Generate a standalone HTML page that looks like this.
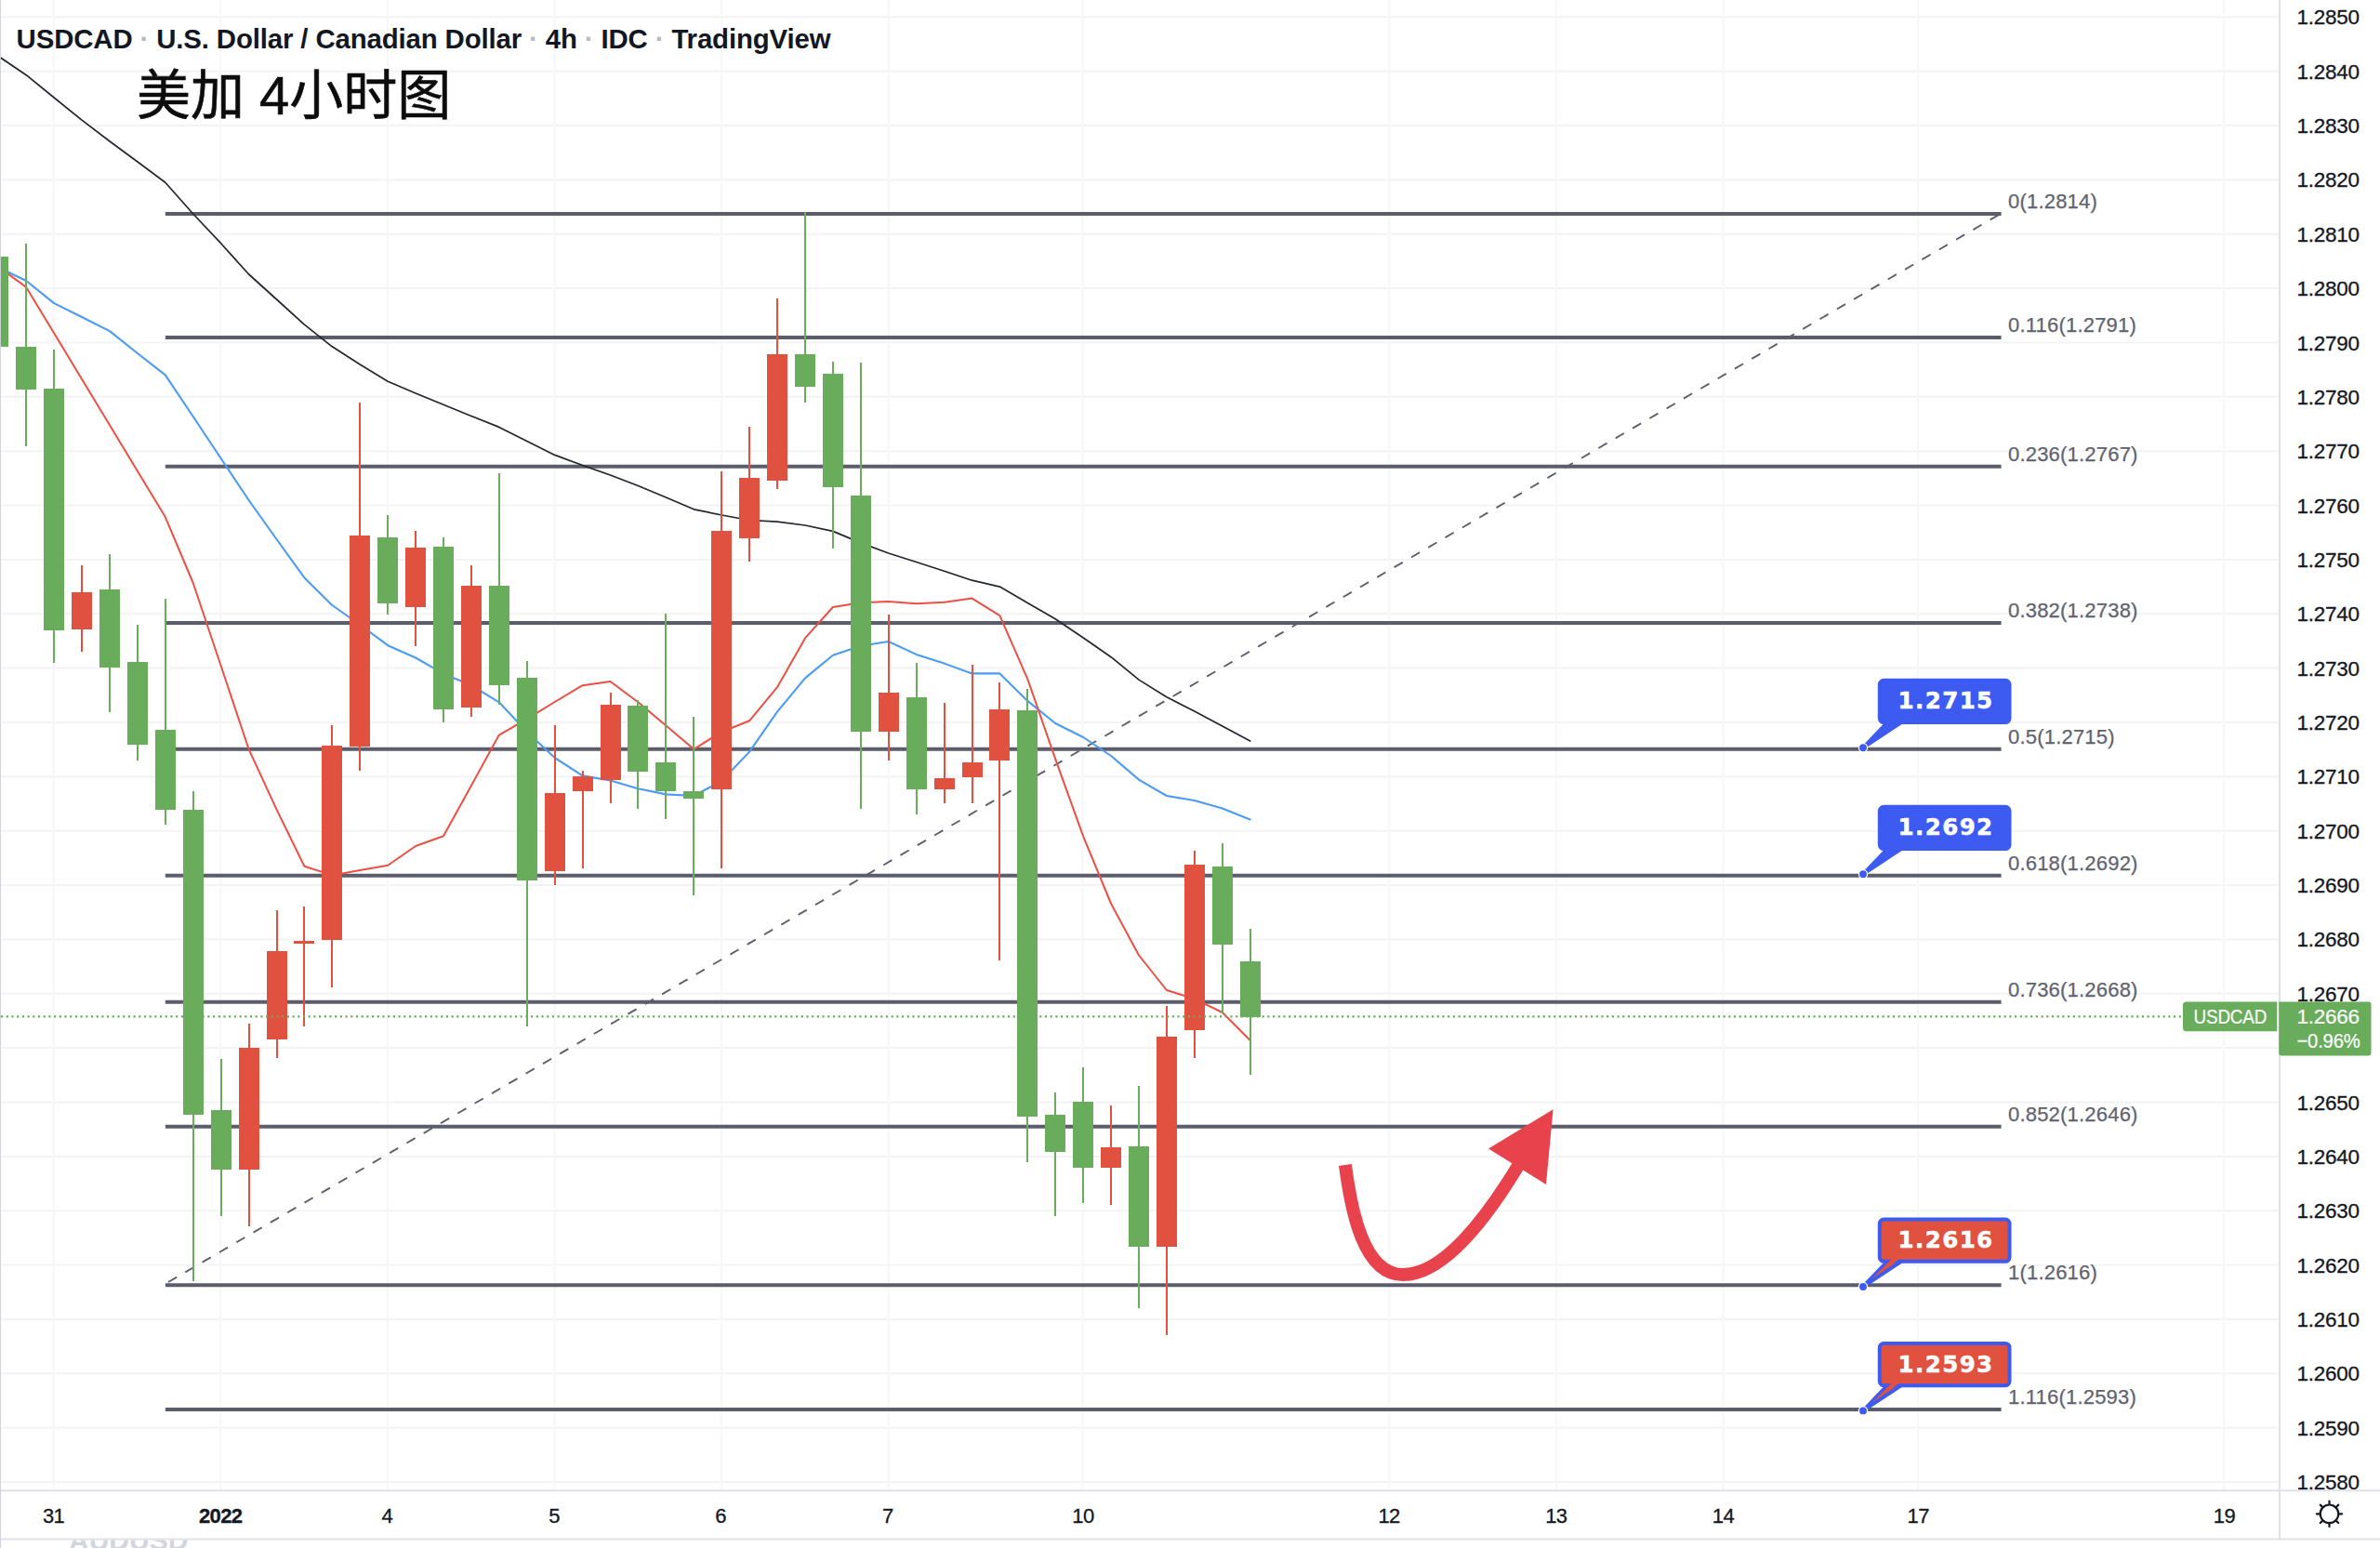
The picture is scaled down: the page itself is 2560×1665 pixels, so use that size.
<!DOCTYPE html>
<html lang="zh"><head><meta charset="utf-8"><title>USDCAD 4h</title>
<style>
html,body{margin:0;padding:0;background:#fff;}
body{width:2560px;height:1665px;overflow:hidden;position:relative;}
svg{position:absolute;left:0;top:0;display:block;}
text{font-family:"Liberation Sans","Noto Sans CJK SC",sans-serif;}
.ax{font-size:22.5px;fill:#131722;letter-spacing:-0.25px;stroke:#131722;stroke-width:0.3px;}
.fl{font-size:22px;fill:#60636f;letter-spacing:0.2px;stroke:#60636f;stroke-width:0.25px;}
.cl{font-family:"DejaVu Sans","Liberation Sans",sans-serif;font-weight:bold;font-size:24.5px;fill:#fff;letter-spacing:1.4px;stroke:#fff;stroke-width:0.5px;}
.ttl{font-size:29.4px;font-weight:bold;fill:#131722;}
.cn{font-family:"Liberation Sans","Noto Sans CJK SC",sans-serif;font-size:58px;fill:#0c0c0c;font-weight:400;stroke:#0c0c0c;stroke-width:0.6px;}
</style></head><body>
<svg width="2560" height="1665" viewBox="0 0 2560 1665">
<rect x="0" y="0" width="2560" height="1665" fill="#ffffff"/>
<g stroke="#f3f3f5" stroke-width="2">
<line x1="0" y1="18.3" x2="2452" y2="18.3"/>
<line x1="0" y1="76.7" x2="2452" y2="76.7"/>
<line x1="0" y1="135.0" x2="2452" y2="135.0"/>
<line x1="0" y1="193.4" x2="2452" y2="193.4"/>
<line x1="0" y1="251.7" x2="2452" y2="251.7"/>
<line x1="0" y1="310.1" x2="2452" y2="310.1"/>
<line x1="0" y1="368.5" x2="2452" y2="368.5"/>
<line x1="0" y1="426.8" x2="2452" y2="426.8"/>
<line x1="0" y1="485.2" x2="2452" y2="485.2"/>
<line x1="0" y1="543.5" x2="2452" y2="543.5"/>
<line x1="0" y1="601.9" x2="2452" y2="601.9"/>
<line x1="0" y1="660.3" x2="2452" y2="660.3"/>
<line x1="0" y1="718.6" x2="2452" y2="718.6"/>
<line x1="0" y1="777.0" x2="2452" y2="777.0"/>
<line x1="0" y1="835.3" x2="2452" y2="835.3"/>
<line x1="0" y1="893.7" x2="2452" y2="893.7"/>
<line x1="0" y1="952.1" x2="2452" y2="952.1"/>
<line x1="0" y1="1010.4" x2="2452" y2="1010.4"/>
<line x1="0" y1="1068.8" x2="2452" y2="1068.8"/>
<line x1="0" y1="1127.1" x2="2452" y2="1127.1"/>
<line x1="0" y1="1185.5" x2="2452" y2="1185.5"/>
<line x1="0" y1="1243.9" x2="2452" y2="1243.9"/>
<line x1="0" y1="1302.2" x2="2452" y2="1302.2"/>
<line x1="0" y1="1360.6" x2="2452" y2="1360.6"/>
<line x1="0" y1="1418.9" x2="2452" y2="1418.9"/>
<line x1="0" y1="1477.3" x2="2452" y2="1477.3"/>
<line x1="0" y1="1535.7" x2="2452" y2="1535.7"/>
<line x1="0" y1="1594.0" x2="2452" y2="1594.0"/>
</g>
<g stroke="#f7f7f9" stroke-width="2.2">
<line x1="57.6" y1="0" x2="57.6" y2="1603.2"/>
<line x1="237.2" y1="0" x2="237.2" y2="1603.2"/>
<line x1="416.9" y1="0" x2="416.9" y2="1603.2"/>
<line x1="596.6" y1="0" x2="596.6" y2="1603.2"/>
<line x1="776.2" y1="0" x2="776.2" y2="1603.2"/>
<line x1="955.9" y1="0" x2="955.9" y2="1603.2"/>
<line x1="1164.6" y1="0" x2="1164.6" y2="1603.2"/>
<line x1="1494.4" y1="0" x2="1494.4" y2="1603.2"/>
<line x1="1674.0" y1="0" x2="1674.0" y2="1603.2"/>
<line x1="1853.5" y1="0" x2="1853.5" y2="1603.2"/>
<line x1="2063.0" y1="0" x2="2063.0" y2="1603.2"/>
<line x1="2392.0" y1="0" x2="2392.0" y2="1603.2"/>
</g>
<line x1="181" y1="1379" x2="2152" y2="229.8" stroke="#5d5f6b" stroke-width="1.9" stroke-dasharray="10.6 10.6"/>
<g stroke="#5b5d6b" stroke-width="4">
<line x1="177.9" y1="230.1" x2="2152.6" y2="230.1"/>
<line x1="177.9" y1="362.9" x2="2152.6" y2="362.9"/>
<line x1="177.9" y1="501.7" x2="2152.6" y2="501.7"/>
<line x1="177.9" y1="670.1" x2="2152.6" y2="670.1"/>
<line x1="177.9" y1="805.8" x2="2152.6" y2="805.8"/>
<line x1="177.9" y1="941.8" x2="2152.6" y2="941.8"/>
<line x1="177.9" y1="1077.7" x2="2152.6" y2="1077.7"/>
<line x1="177.9" y1="1211.7" x2="2152.6" y2="1211.7"/>
<line x1="177.9" y1="1382.3" x2="2152.6" y2="1382.3"/>
<line x1="177.9" y1="1516.1" x2="2152.6" y2="1516.1"/>
</g>
<polyline points="-1.7,60.5 28.2,80.7 58.1,105.0 88.0,129.1 118.0,152.0 147.9,174.0 177.8,196.3 207.7,230.0 237.6,261.7 267.6,295.0 297.5,322.0 327.4,349.2 357.3,372.8 387.2,392.0 417.2,410.3 447.1,423.0 477.0,435.3 506.9,447.5 536.8,459.4 566.8,474.5 596.7,489.4 626.6,500.5 656.5,511.0 686.4,522.5 716.4,535.0 746.3,547.8 776.2,554.0 806.1,559.5 836.0,561.1 866.0,565.0 895.9,571.4 925.8,583.9 955.7,595.0 985.6,604.5 1015.6,614.3 1045.5,624.2 1075.4,631.1 1105.3,648.5 1135.2,665.8 1165.2,686.0 1195.1,706.7 1225.0,731.1 1254.9,749.7 1284.8,765.0 1314.8,781.0 1344.7,797.0" fill="none" stroke="#23262f" stroke-width="1.7" stroke-linejoin="round" stroke-linecap="round"/>
<polyline points="-1.7,287.7 28.2,302.0 58.1,326.1 88.0,341.0 118.0,356.1 147.9,380.0 177.8,403.3 207.7,448.0 237.6,493.0 267.6,538.0 297.5,580.0 327.4,621.4 357.3,651.0 387.2,672.0 417.2,694.2 447.1,707.5 477.0,724.7 506.9,737.0 536.8,755.3 566.8,787.2 596.7,815.0 626.6,834.4 656.5,839.5 686.4,848.3 716.4,854.4 746.3,856.0 776.2,840.0 806.1,808.6 836.0,765.6 866.0,729.4 895.9,704.7 925.8,694.7 955.7,690.0 985.6,703.9 1015.6,713.6 1045.5,724.4 1075.4,724.4 1105.3,753.9 1135.2,778.0 1165.2,793.0 1195.1,813.0 1225.0,838.6 1254.9,856.0 1284.8,861.0 1314.8,869.6 1344.7,881.4" fill="none" stroke="#4a9bf5" stroke-width="2.1" stroke-linejoin="round" stroke-linecap="round"/>
<polyline points="-1.7,287.0 28.2,308.9 58.1,358.3 88.0,407.8 118.0,457.2 147.9,506.7 177.8,556.1 207.7,627.0 237.6,716.0 267.6,805.8 297.5,870.6 327.4,931.7 357.3,941.4 387.2,936.0 417.2,930.8 447.1,910.0 477.0,899.2 506.9,845.0 536.8,790.6 566.8,773.3 596.7,755.0 626.6,737.2 656.5,733.0 686.4,755.3 716.4,780.5 746.3,805.8 776.2,787.2 806.1,775.3 836.0,739.2 866.0,686.4 895.9,653.0 925.8,648.3 955.7,647.0 985.6,649.2 1015.6,647.8 1045.5,643.6 1075.4,662.2 1105.3,730.3 1135.2,816.4 1165.2,899.7 1195.1,972.0 1225.0,1027.5 1254.9,1065.0 1284.8,1074.4 1314.8,1089.0 1344.7,1119.0" fill="none" stroke="#ec4f43" stroke-width="2.0" stroke-linejoin="round" stroke-linecap="round"/>
<g shape-rendering="crispEdges">
<rect x="-12.7" y="276.4" width="22" height="96.9" fill="#69ad5c"/>
<rect x="27.2" y="261.7" width="2" height="218.0" fill="#69ad5c"/>
<rect x="17.2" y="372.8" width="22" height="45.8" fill="#69ad5c"/>
<rect x="57.1" y="376.1" width="2" height="336.7" fill="#69ad5c"/>
<rect x="47.1" y="418.0" width="22" height="260.0" fill="#69ad5c"/>
<rect x="87.0" y="608.3" width="2" height="92.3" fill="#e0513f"/>
<rect x="77.0" y="637.2" width="22" height="39.8" fill="#e0513f"/>
<rect x="117.0" y="596.4" width="2" height="169.2" fill="#69ad5c"/>
<rect x="107.0" y="634.4" width="22" height="83.1" fill="#69ad5c"/>
<rect x="146.9" y="672.0" width="2" height="145.8" fill="#69ad5c"/>
<rect x="136.9" y="712.2" width="22" height="88.4" fill="#69ad5c"/>
<rect x="176.8" y="644.4" width="2" height="242.8" fill="#69ad5c"/>
<rect x="166.8" y="785.3" width="22" height="85.5" fill="#69ad5c"/>
<rect x="206.7" y="851.1" width="2" height="526.9" fill="#69ad5c"/>
<rect x="196.7" y="870.6" width="22" height="328.3" fill="#69ad5c"/>
<rect x="236.6" y="1138.6" width="2" height="169.2" fill="#69ad5c"/>
<rect x="226.6" y="1194.2" width="22" height="63.8" fill="#69ad5c"/>
<rect x="266.6" y="1101.0" width="2" height="217.9" fill="#e0513f"/>
<rect x="256.6" y="1127.2" width="22" height="130.8" fill="#e0513f"/>
<rect x="296.5" y="978.9" width="2" height="159.4" fill="#e0513f"/>
<rect x="286.5" y="1022.5" width="22" height="95.8" fill="#e0513f"/>
<rect x="326.4" y="975.3" width="2" height="128.3" fill="#e0513f"/>
<rect x="316.4" y="1012.0" width="22" height="2.6" fill="#e0513f"/>
<rect x="356.3" y="779.7" width="2" height="282.5" fill="#e0513f"/>
<rect x="346.3" y="802.2" width="22" height="208.4" fill="#e0513f"/>
<rect x="386.2" y="433.3" width="2" height="395.6" fill="#e0513f"/>
<rect x="376.2" y="575.6" width="22" height="227.2" fill="#e0513f"/>
<rect x="416.2" y="554.2" width="2" height="106.6" fill="#69ad5c"/>
<rect x="406.2" y="577.5" width="22" height="71.1" fill="#69ad5c"/>
<rect x="446.1" y="570.8" width="2" height="124.2" fill="#e0513f"/>
<rect x="436.1" y="589.4" width="22" height="63.9" fill="#e0513f"/>
<rect x="476.0" y="578.3" width="2" height="198.4" fill="#69ad5c"/>
<rect x="466.0" y="588.3" width="22" height="174.7" fill="#69ad5c"/>
<rect x="505.9" y="608.3" width="2" height="162.3" fill="#e0513f"/>
<rect x="495.9" y="629.7" width="22" height="131.7" fill="#e0513f"/>
<rect x="535.8" y="508.9" width="2" height="249.1" fill="#69ad5c"/>
<rect x="525.8" y="629.7" width="22" height="107.2" fill="#69ad5c"/>
<rect x="565.8" y="711.4" width="2" height="392.2" fill="#69ad5c"/>
<rect x="555.8" y="729.2" width="22" height="217.8" fill="#69ad5c"/>
<rect x="595.7" y="779.7" width="2" height="172.0" fill="#e0513f"/>
<rect x="585.7" y="853.0" width="22" height="83.7" fill="#e0513f"/>
<rect x="625.6" y="829.4" width="2" height="105.0" fill="#e0513f"/>
<rect x="615.6" y="835.0" width="22" height="16.4" fill="#e0513f"/>
<rect x="655.5" y="745.0" width="2" height="119.4" fill="#e0513f"/>
<rect x="645.5" y="758.3" width="22" height="80.9" fill="#e0513f"/>
<rect x="685.4" y="753.3" width="2" height="116.7" fill="#69ad5c"/>
<rect x="675.4" y="759.4" width="22" height="70.3" fill="#69ad5c"/>
<rect x="715.4" y="660.3" width="2" height="220.8" fill="#69ad5c"/>
<rect x="705.4" y="820.0" width="22" height="31.1" fill="#69ad5c"/>
<rect x="745.3" y="771.1" width="2" height="191.7" fill="#69ad5c"/>
<rect x="735.3" y="851.1" width="22" height="7.8" fill="#69ad5c"/>
<rect x="775.2" y="507.0" width="2" height="426.9" fill="#e0513f"/>
<rect x="765.2" y="570.8" width="22" height="278.6" fill="#e0513f"/>
<rect x="805.1" y="459.4" width="2" height="144.8" fill="#e0513f"/>
<rect x="795.1" y="514.4" width="22" height="64.2" fill="#e0513f"/>
<rect x="835.0" y="321.4" width="2" height="204.2" fill="#e0513f"/>
<rect x="825.0" y="380.6" width="22" height="136.1" fill="#e0513f"/>
<rect x="865.0" y="228.3" width="2" height="204.5" fill="#69ad5c"/>
<rect x="855.0" y="380.6" width="22" height="35.2" fill="#69ad5c"/>
<rect x="894.9" y="388.6" width="2" height="201.7" fill="#69ad5c"/>
<rect x="884.9" y="402.2" width="22" height="121.4" fill="#69ad5c"/>
<rect x="924.8" y="390.0" width="2" height="480.0" fill="#69ad5c"/>
<rect x="914.8" y="532.5" width="22" height="254.2" fill="#69ad5c"/>
<rect x="954.7" y="660.8" width="2" height="157.0" fill="#e0513f"/>
<rect x="944.7" y="745.0" width="22" height="41.7" fill="#e0513f"/>
<rect x="984.6" y="713.0" width="2" height="162.6" fill="#69ad5c"/>
<rect x="974.6" y="750.0" width="22" height="98.6" fill="#69ad5c"/>
<rect x="1014.6" y="756.1" width="2" height="108.3" fill="#e0513f"/>
<rect x="1004.6" y="837.2" width="22" height="11.4" fill="#e0513f"/>
<rect x="1044.5" y="715.0" width="2" height="149.4" fill="#e0513f"/>
<rect x="1034.5" y="820.0" width="22" height="15.6" fill="#e0513f"/>
<rect x="1074.4" y="734.4" width="2" height="298.6" fill="#e0513f"/>
<rect x="1064.4" y="762.8" width="22" height="55.0" fill="#e0513f"/>
<rect x="1104.3" y="741.4" width="2" height="508.3" fill="#69ad5c"/>
<rect x="1094.3" y="764.2" width="22" height="436.6" fill="#69ad5c"/>
<rect x="1134.2" y="1174.7" width="2" height="133.1" fill="#69ad5c"/>
<rect x="1124.2" y="1199.4" width="22" height="40.0" fill="#69ad5c"/>
<rect x="1164.2" y="1147.8" width="2" height="146.1" fill="#69ad5c"/>
<rect x="1154.2" y="1185.3" width="22" height="70.8" fill="#69ad5c"/>
<rect x="1194.1" y="1189.2" width="2" height="106.4" fill="#e0513f"/>
<rect x="1184.1" y="1234.2" width="22" height="21.9" fill="#e0513f"/>
<rect x="1224.0" y="1167.8" width="2" height="239.4" fill="#69ad5c"/>
<rect x="1214.0" y="1233.0" width="22" height="107.6" fill="#69ad5c"/>
<rect x="1253.9" y="1082.2" width="2" height="354.2" fill="#e0513f"/>
<rect x="1243.9" y="1115.0" width="22" height="225.6" fill="#e0513f"/>
<rect x="1283.8" y="914.5" width="2" height="223.7" fill="#e0513f"/>
<rect x="1273.8" y="929.6" width="22" height="178.4" fill="#e0513f"/>
<rect x="1313.8" y="907.0" width="2" height="182.5" fill="#69ad5c"/>
<rect x="1303.8" y="932.0" width="22" height="84.3" fill="#69ad5c"/>
<rect x="1343.7" y="999.2" width="2" height="156.7" fill="#69ad5c"/>
<rect x="1333.7" y="1033.6" width="22" height="60.2" fill="#69ad5c"/>
</g>
<text class="fl" x="2160" y="224.1">0(1.2814)</text>
<text class="fl" x="2160" y="356.9">0.116(1.2791)</text>
<text class="fl" x="2160" y="495.7">0.236(1.2767)</text>
<text class="fl" x="2160" y="664.1">0.382(1.2738)</text>
<text class="fl" x="2160" y="799.8">0.5(1.2715)</text>
<text class="fl" x="2160" y="935.8">0.618(1.2692)</text>
<text class="fl" x="2160" y="1071.7">0.736(1.2668)</text>
<text class="fl" x="2160" y="1205.7">0.852(1.2646)</text>
<text class="fl" x="2160" y="1376.3">1(1.2616)</text>
<text class="fl" x="2160" y="1510.1">1.116(1.2593)</text>
<line x1="1" y1="1093.4" x2="2349" y2="1093.4" stroke="#69ad5c" stroke-width="2.2" stroke-dasharray="2.2 3.5"/>
<path d="M1447,1253 C1453,1300 1466,1371 1509,1371 C1552,1371 1598,1312 1634,1252" fill="none" stroke="#e8434c" stroke-width="14"/>
<polygon points="1670.6,1193.3 1601,1235.6 1663,1273.9" fill="#e8434c"/>
<polygon points="2004.5,803.8 2031,776.1 2046.5,776.1" fill="#3d5af1" stroke="#3d5af1" stroke-width="4" stroke-linejoin="round"/>
<rect x="2021.8" y="731.8" width="139.7" height="45.3" rx="4.5" fill="#3d5af1" stroke="#3d5af1" stroke-width="4"/>
<circle cx="2004" cy="804.3" r="4.6" fill="#3d5af1" stroke="#fff" stroke-width="1.3"/>
<text class="cl" x="2093.1" y="762.4" text-anchor="middle">1.2715</text>
<polygon points="2004.5,939.8 2031,912.1 2046.5,912.1" fill="#3d5af1" stroke="#3d5af1" stroke-width="4" stroke-linejoin="round"/>
<rect x="2021.8" y="867.8" width="139.7" height="45.3" rx="4.5" fill="#3d5af1" stroke="#3d5af1" stroke-width="4"/>
<circle cx="2004" cy="940.3" r="4.6" fill="#3d5af1" stroke="#fff" stroke-width="1.3"/>
<text class="cl" x="2093.1" y="898.4" text-anchor="middle">1.2692</text>
<polygon points="2004.5,1383.5 2031,1355.8 2046.5,1355.8" fill="#e0513f" stroke="#3d5af1" stroke-width="4" stroke-linejoin="round"/>
<rect x="2021.8" y="1311.5" width="139.7" height="45.3" rx="4.5" fill="#e0513f" stroke="#3d5af1" stroke-width="4"/>
<polygon points="2013,1376.0 2035,1353.8 2043.5,1353.8" fill="#e0513f"/>
<circle cx="2004" cy="1384.0" r="4.6" fill="#3d5af1" stroke="#fff" stroke-width="1.3"/>
<text class="cl" x="2093.1" y="1342.1" text-anchor="middle">1.2616</text>
<polygon points="2004.5,1516.9 2031,1489.2 2046.5,1489.2" fill="#e0513f" stroke="#3d5af1" stroke-width="4" stroke-linejoin="round"/>
<rect x="2021.8" y="1444.9" width="139.7" height="45.3" rx="4.5" fill="#e0513f" stroke="#3d5af1" stroke-width="4"/>
<polygon points="2013,1509.4 2035,1487.2 2043.5,1487.2" fill="#e0513f"/>
<circle cx="2004" cy="1517.4" r="4.6" fill="#3d5af1" stroke="#fff" stroke-width="1.3"/>
<text class="cl" x="2093.1" y="1475.5" text-anchor="middle">1.2593</text>
<rect x="2453" y="0" width="107" height="1603.2" fill="#fff"/>
<line x1="2452" y1="0" x2="2452" y2="1655.4" stroke="#e0e1e6" stroke-width="2"/>
<text class="ax" x="2470.5" y="26.3">1.2850</text>
<text class="ax" x="2470.5" y="84.7">1.2840</text>
<text class="ax" x="2470.5" y="143.0">1.2830</text>
<text class="ax" x="2470.5" y="201.4">1.2820</text>
<text class="ax" x="2470.5" y="259.7">1.2810</text>
<text class="ax" x="2470.5" y="318.1">1.2800</text>
<text class="ax" x="2470.5" y="376.5">1.2790</text>
<text class="ax" x="2470.5" y="434.8">1.2780</text>
<text class="ax" x="2470.5" y="493.2">1.2770</text>
<text class="ax" x="2470.5" y="551.5">1.2760</text>
<text class="ax" x="2470.5" y="609.9">1.2750</text>
<text class="ax" x="2470.5" y="668.3">1.2740</text>
<text class="ax" x="2470.5" y="726.6">1.2730</text>
<text class="ax" x="2470.5" y="785.0">1.2720</text>
<text class="ax" x="2470.5" y="843.3">1.2710</text>
<text class="ax" x="2470.5" y="901.7">1.2700</text>
<text class="ax" x="2470.5" y="960.1">1.2690</text>
<text class="ax" x="2470.5" y="1018.4">1.2680</text>
<text class="ax" x="2470.5" y="1076.8">1.2670</text>
<text class="ax" x="2470.5" y="1193.5">1.2650</text>
<text class="ax" x="2470.5" y="1251.9">1.2640</text>
<text class="ax" x="2470.5" y="1310.2">1.2630</text>
<text class="ax" x="2470.5" y="1368.6">1.2620</text>
<text class="ax" x="2470.5" y="1426.9">1.2610</text>
<text class="ax" x="2470.5" y="1485.3">1.2600</text>
<text class="ax" x="2470.5" y="1543.7">1.2590</text>
<text class="ax" x="2470.5" y="1602.0">1.2580</text>
<path d="M2351.5,1077.5 H2449.3 V1109.2 H2351.5 Q2348,1109.2 2348,1105.7 V1081 Q2348,1077.5 2351.5,1077.5 Z" fill="#69ad5c"/>
<text class="ax" x="2359.6" y="1101.0" textLength="78.5" lengthAdjust="spacingAndGlyphs" style="fill:#fff;stroke:#fff;stroke-width:0.2px">USDCAD</text>
<path d="M2451.2,1077.5 H2547.5 Q2550.5,1077.5 2550.5,1080.5 V1132.5 Q2550.5,1135.5 2547.5,1135.5 H2454.2 Q2451.2,1135.5 2451.2,1132.5 Z" fill="#69ad5c"/>
<text class="ax" x="2470.5" y="1101.0" style="fill:#fff;stroke:#fff;stroke-width:0.2px">1.2666</text>
<text class="ax" x="2470.5" y="1127.2" textLength="68" lengthAdjust="spacingAndGlyphs" style="fill:#fff;stroke:#fff;stroke-width:0.2px">−0.96%</text>
<rect x="0" y="1603.2" width="2560" height="61.8" fill="#fff"/>
<line x1="0" y1="1603.2" x2="2560" y2="1603.2" stroke="#e0e1e6" stroke-width="2"/>
<line x1="0" y1="1655.4" x2="2560" y2="1655.4" stroke="#e0e1e6" stroke-width="2"/>
<line x1="2452" y1="1603.2" x2="2452" y2="1655.4" stroke="#e0e1e6" stroke-width="2"/>
<text class="ax" x="57.6" y="1638.3" text-anchor="middle" style="font-size:22px;letter-spacing:-0.6px">31</text>
<text class="ax" x="237.2" y="1638.3" text-anchor="middle" style="font-size:22px;letter-spacing:-0.6px;font-weight:bold">2022</text>
<text class="ax" x="416.4" y="1638.3" text-anchor="middle" style="font-size:22px;letter-spacing:-0.6px">4</text>
<text class="ax" x="596.0" y="1638.3" text-anchor="middle" style="font-size:22px;letter-spacing:-0.6px">5</text>
<text class="ax" x="775.0" y="1638.3" text-anchor="middle" style="font-size:22px;letter-spacing:-0.6px">6</text>
<text class="ax" x="954.8" y="1638.3" text-anchor="middle" style="font-size:22px;letter-spacing:-0.6px">7</text>
<text class="ax" x="1165.0" y="1638.3" text-anchor="middle" style="font-size:22px;letter-spacing:-0.6px">10</text>
<text class="ax" x="1494.1" y="1638.3" text-anchor="middle" style="font-size:22px;letter-spacing:-0.6px">12</text>
<text class="ax" x="1673.8" y="1638.3" text-anchor="middle" style="font-size:22px;letter-spacing:-0.6px">13</text>
<text class="ax" x="1853.4" y="1638.3" text-anchor="middle" style="font-size:22px;letter-spacing:-0.6px">14</text>
<text class="ax" x="2063.2" y="1638.3" text-anchor="middle" style="font-size:22px;letter-spacing:-0.6px">17</text>
<text class="ax" x="2392.4" y="1638.3" text-anchor="middle" style="font-size:22px;letter-spacing:-0.6px">19</text>
<line x1="0.4" y1="0" x2="0.4" y2="1665" stroke="#d0d2da" stroke-width="1.1"/>
<g stroke="#131722" stroke-width="2.2" fill="none" stroke-linecap="round">
<circle cx="2505.5" cy="1628.3" r="9.8"/>
<line x1="2516.30" y1="1628.30" x2="2519.20" y2="1628.30"/>
<line x1="2513.14" y1="1635.94" x2="2515.19" y2="1637.99"/>
<line x1="2505.50" y1="1639.10" x2="2505.50" y2="1642.00"/>
<line x1="2497.86" y1="1635.94" x2="2495.81" y2="1637.99"/>
<line x1="2494.70" y1="1628.30" x2="2491.80" y2="1628.30"/>
<line x1="2497.86" y1="1620.66" x2="2495.81" y2="1618.61"/>
<line x1="2505.50" y1="1617.50" x2="2505.50" y2="1614.60"/>
<line x1="2513.14" y1="1620.66" x2="2515.19" y2="1618.61"/>
</g>
<clipPath id="cb"><rect x="0" y="1656.6" width="400" height="10"/></clipPath>
<text x="74" y="1666.5" clip-path="url(#cb)" style="font-size:30px;font-weight:bold;fill:#d2d5dd">AUDUSD</text>
<text class="ttl" x="17.6" y="51.6" textLength="876" lengthAdjust="spacing">USDCAD <tspan fill="#b8bbc4">·</tspan> U.S. Dollar / Canadian Dollar <tspan fill="#b8bbc4">·</tspan> 4h <tspan fill="#b8bbc4">·</tspan> IDC <tspan fill="#b8bbc4">·</tspan> TradingView</text>
<text class="cn" x="147" y="123.4">美加 4小时图</text>
</svg>
</body></html>
